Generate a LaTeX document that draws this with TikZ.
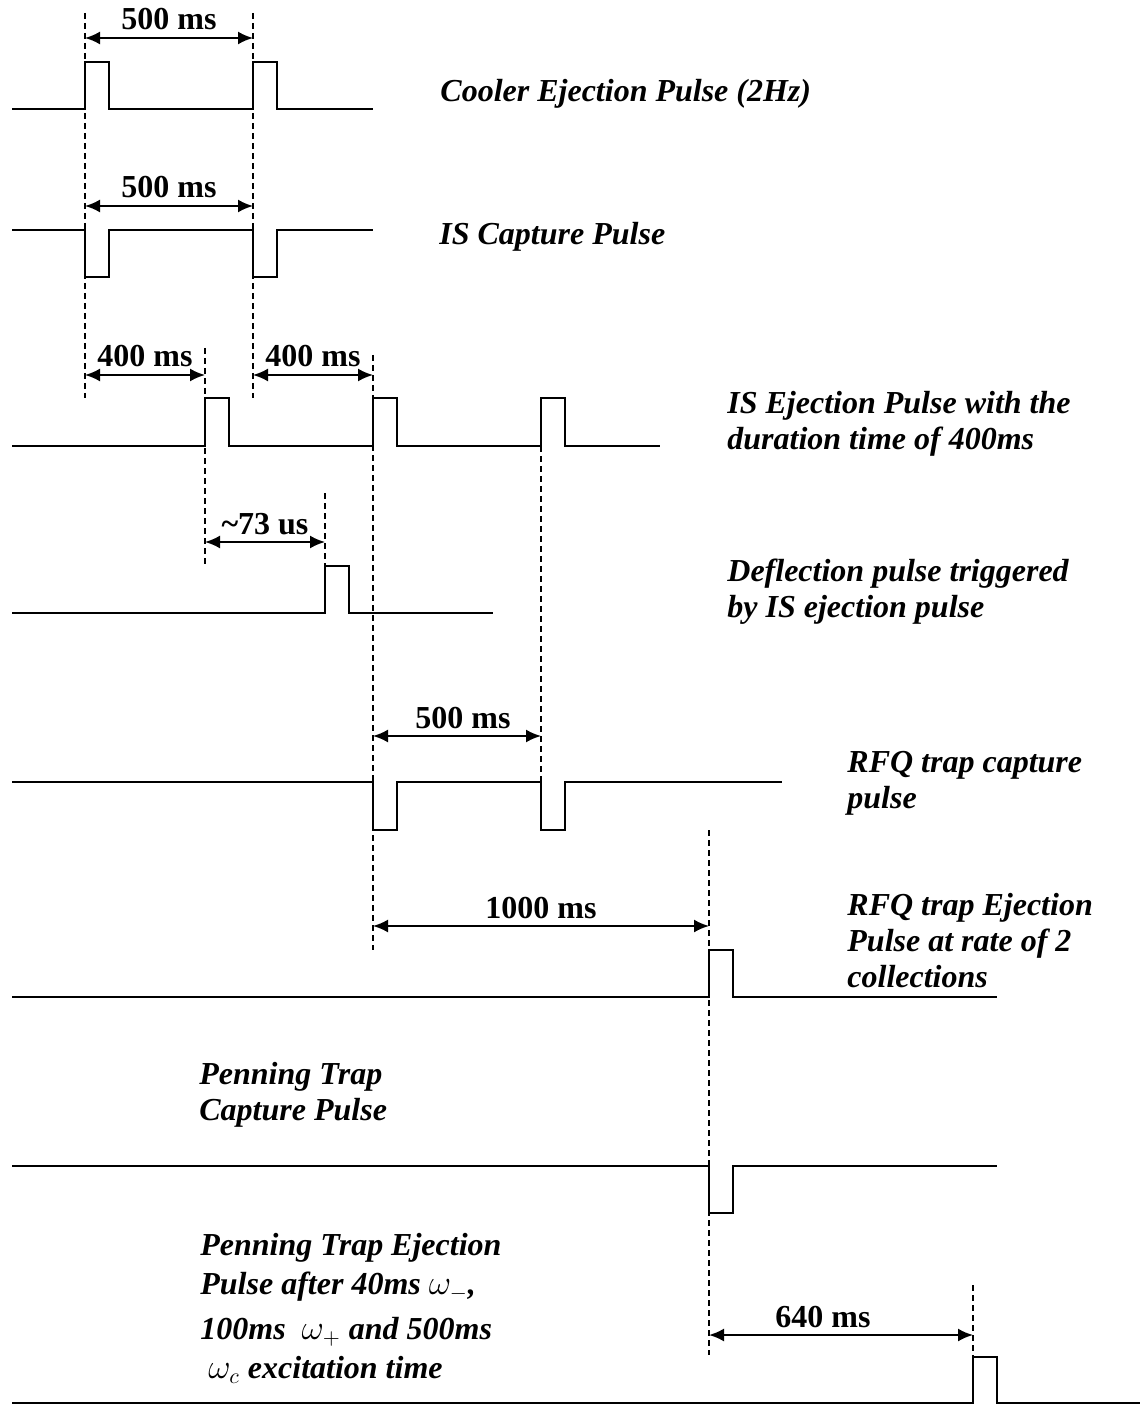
\documentclass[tikz,border=0pt]{standalone}
\usepackage{fontspec}
\setmainfont{Liberation Serif}
\usetikzlibrary{arrows.meta}

\newcommand{\defineGuides}{
    \coordinate (g1a) at (85, 13);    \coordinate (g1b) at (85, 398);   % cooler / capture
    \coordinate (g2a) at (253, 13);   \coordinate (g2b) at (253, 398);
    \coordinate (g3a) at (205, 348);  \coordinate (g3b) at (205, 567);  % IS ejection 1
    \coordinate (g4a) at (373, 355);  \coordinate (g4b) at (373, 950);  % IS ejection 2
    \coordinate (g5a) at (541, 446);  \coordinate (g5b) at (541, 782);  % IS ejection 3
    \coordinate (g6a) at (325, 493);  \coordinate (g6b) at (325, 566);  % deflection
    \coordinate (g7a) at (709, 830);  \coordinate (g7b) at (709, 1355); % RFQ ejection
    \coordinate (g8a) at (973, 1285); \coordinate (g8b) at (973, 1357); % Penning ejection
}
% #1 base y, #2 pulse y, #3 start x, #4 end x, #5 pulse positions
\newcommand{\pulseTrain}[5]{
    \draw[signal line] (#3,#1) foreach \p in {#5} {
        -- (\p,#1) -- (\p,#2) -- ({\p+24},#2) -- ({\p+24},#1)
    } -- (#4,#1);
}

\begin{document}
\begin{tikzpicture}[
    x=0.5pt, y=-0.5pt,
    % signal styles
    signal line/.style={line width=1pt, black, line join=miter},
    guide line/.style={line width=0.75pt, black, dash pattern=on 3pt off 2pt},
    span arrow/.style={line width=1pt, {Latex[length=7.5pt,width=6.5pt]}-{Latex[length=7.5pt,width=6.5pt]}},
    % text styles
    span label/.style={font=\bfseries\fontsize{16}{18}\selectfont, anchor=base, inner sep=0pt},
    pulse label/.style={font=\bfseries\itshape\fontsize{16}{18}\selectfont, anchor=base west, align=left, inner sep=0pt}
]

\useasboundingbox (0,0) rectangle (1144,1406);

\defineGuides

% 1. Pulse trains
\pulseTrain{109}{62}{12}{373}{85,253}
\pulseTrain{230}{277}{12}{373}{85,253}
\pulseTrain{446}{398}{12}{660}{205,373,541}
\pulseTrain{613}{566}{12}{493}{325}
\pulseTrain{782}{830}{12}{782}{373,541}
\pulseTrain{997}{950}{12}{997}{709}
\pulseTrain{1166}{1213}{12}{997}{709}
\pulseTrain{1403}{1357}{12}{1140}{973}

% 2. Dashed guides
\foreach \i in {1,...,8} {
    \draw[guide line] (g\i a) -- (g\i b);
}

% 3. Time spans
\foreach \name/\xa/\xb/\y/\dx/\txt in {
    s1/85/253/38/0/{500 ms},
    s2/85/253/206/0/{500 ms},
    s3/85/205/375/0/{400 ms},
    s4/253/373/375/0/{400 ms},
    s5/205/325/542/0/{\textasciitilde73 us},
    s6/373/541/736/3/{500 ms},
    s7/373/709/926/0/{1000 ms},
    s8/709/973/1335/-9/{640 ms}
}{
    \coordinate (\name-l) at (\xa,\y);
    \coordinate (\name-r) at (\xb,\y);
    \draw[span arrow] (\name-l) -- (\name-r)
        node[span label, midway, yshift=4pt, xshift=\dx pt] (\name-t) {\txt};
}

% 4. Signal names (base = last line)
\node[pulse label] (cooler) at (440,102) {Cooler Ejection Pulse (2Hz)};
\node[pulse label] (iscap) at (439,245) {IS Capture Pulse};
\node[pulse label] (isej) at (727,450) {IS Ejection Pulse with the\\duration time of 400ms};
\node[pulse label] (defl) at (727,617) {Deflection pulse triggered\\by IS ejection pulse};
\node[pulse label] (rfqcap) at (847,808) {RFQ trap capture\\pulse};
\node[pulse label] (rfqej) at (847,987) {RFQ trap Ejection\\Pulse at rate of 2\\collections};
\node[pulse label] (pencap) at (199,1120) {Penning Trap\\Capture Pulse};
\node[pulse label, font=\bfseries\itshape\fontsize{16}{19.5}\selectfont] (penej) at (200,1378)
    {Penning Trap Ejection\\Pulse after 40ms $\omega_{-}$,\\[3pt]100ms\ \ $\omega_{+}$ and 500ms\\\ $\omega_{c}$ excitation time};

\end{tikzpicture}
\end{document}
